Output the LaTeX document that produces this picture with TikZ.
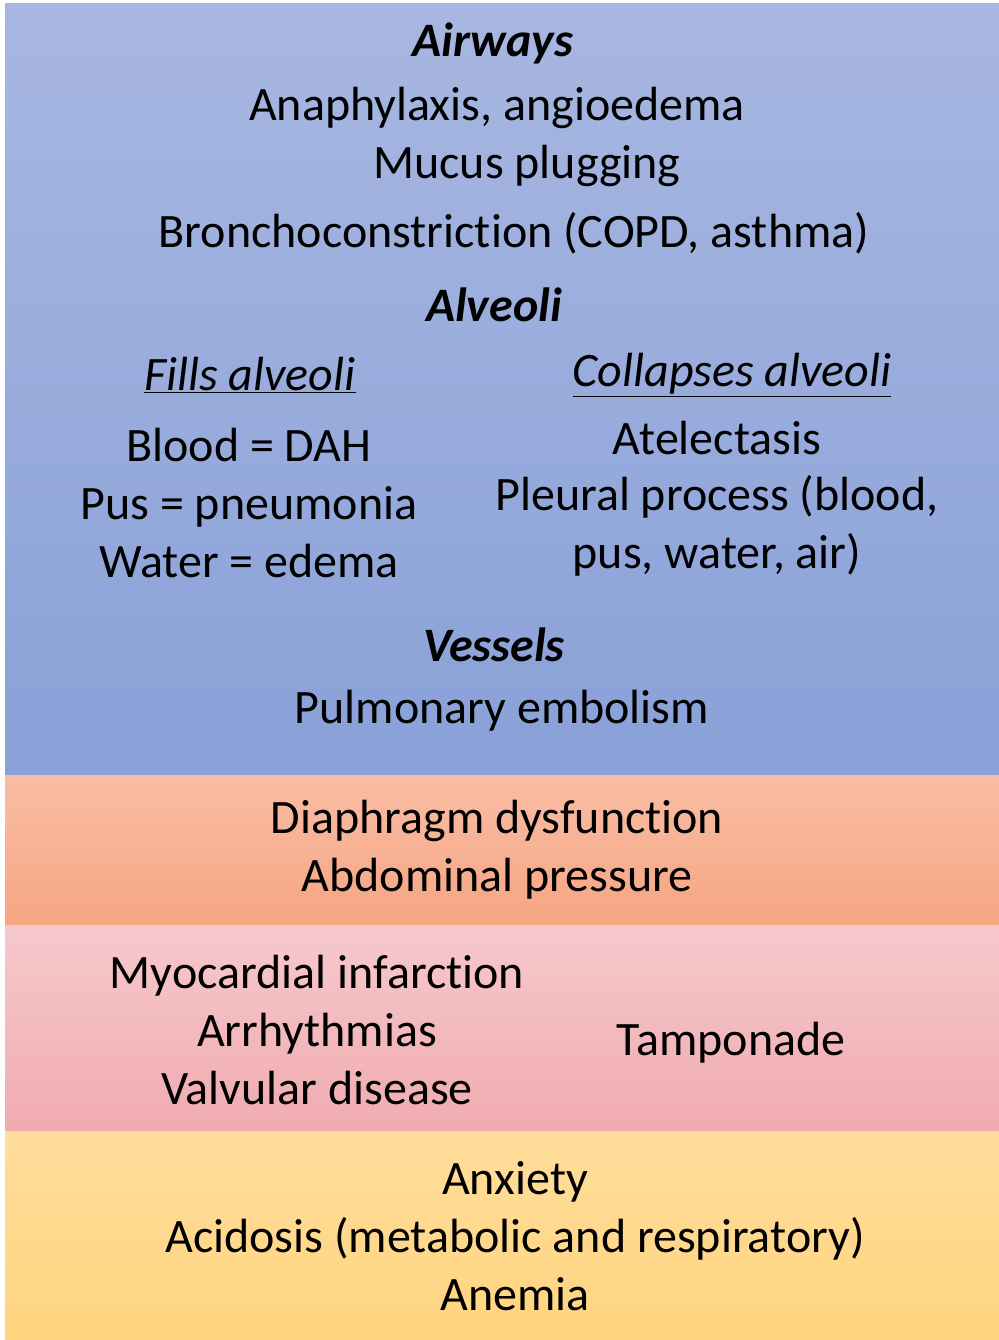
\documentclass[tikz,border=0pt]{standalone}
\usepackage{fontspec}
\setmainfont{Carlito}[Ligatures=NoCommon]
\usepackage{tikz}
\usetikzlibrary{positioning}
\definecolor{blueTop}{HTML}{A8B7E1}
\definecolor{blueBot}{HTML}{89A1D8}
\definecolor{orangeTop}{HTML}{F8BDA5}
\definecolor{orangeBot}{HTML}{F7A582}
\definecolor{pinkTop}{HTML}{F6C9CC}
\definecolor{pinkBot}{HTML}{F0ABB0}
\definecolor{yellowTop}{HTML}{FFDD9B}
\definecolor{yellowBot}{HTML}{FFD47F}

\begin{document}
\begin{tikzpicture}[
  x=0.75pt, y=-0.75pt,
  txt/.style={align=center, inner sep=0pt, yshift=-2.25pt, font=\fontsize{36}{43.5}\selectfont},
  head/.style={txt, font=\fontsize{36}{43.5}\selectfont\bfseries\itshape},
  sub/.style={txt, font=\fontsize{36}{43.5}\selectfont\itshape}]
  \useasboundingbox (0,0) rectangle (999,1340);
  % bands
  \fill[top color=blueTop, bottom color=blueBot] (5,3) rectangle (999,775);
  \fill[top color=orangeTop, bottom color=orangeBot] (5,775) rectangle (999,925);
  \fill[top color=pinkTop, bottom color=pinkBot] (5,925) rectangle (999,1131);
  \fill[top color=yellowTop, bottom color=yellowBot] (5,1131) rectangle (999,1340);
  % lungs
  \node[head] (air) at (493,40) {Airways};
  \node[txt] (ana) at (497,105) {Anaphylaxis, angioedema};
  \node[txt] (muc) at (527,163) {Mucus plugging};
  \node[txt] (bro) at (514,230) {Bronchoconstriction (COPD, asthma)};
  \node[head] (alv) at (494,302) {Alveoli};
  \node[sub] (fill) at (250,372) {\underline{Fills alveoli}};
  \node[sub] (coll) at (732,372) {\underline{Collapses alveoli}};
  \node[txt] (fillx) at (249,500) {Blood = DAH\\Pus = pneumonia\\Water = edema};
  \node[txt] (ate) at (717,435) {Atelectasis};
  \node[txt] (ple) at (717,523) {Pleural process (blood,\\pus, water, air)};
  \node[head] (ves) at (494,642) {Vessels};
  \node[txt] (pe) at (502,708) {Pulmonary embolism};
  % chest wall
  \node[txt] (dia) at (497,847) {Diaphragm dysfunction\\Abdominal pressure};
  % heart
  \node[txt] (card) at (317,1027) {Myocardial infarction\\Arrhythmias\\Valvular disease};
  \node[txt] (tamp) at (731,1040) {Tamponade};
  % other
  \node[txt] (misc) at (515,1233) {Anxiety\\Acidosis (metabolic and respiratory)\\Anemia};
\end{tikzpicture}
\end{document}
